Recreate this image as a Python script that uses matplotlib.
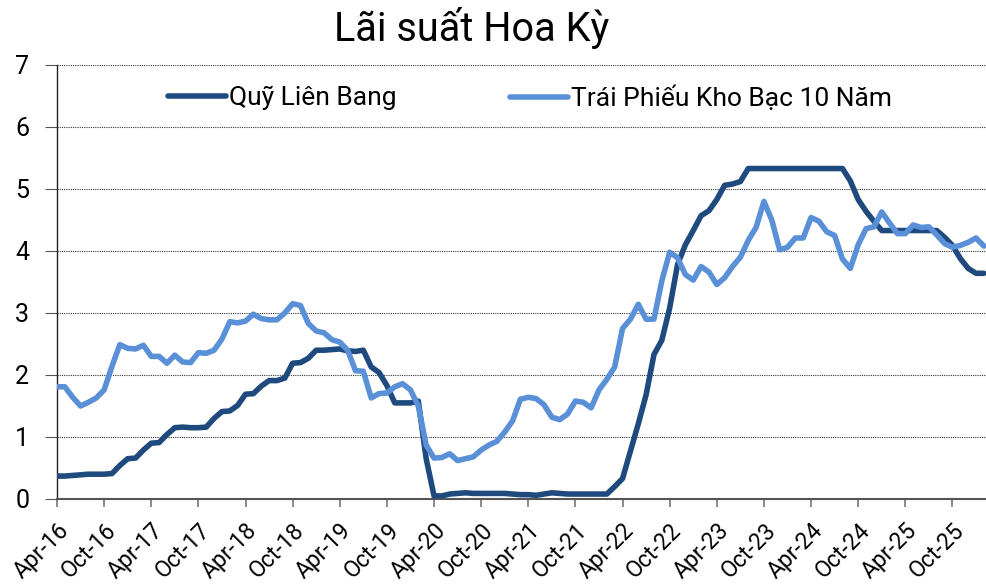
import matplotlib
matplotlib.use("Agg")
import matplotlib.pyplot as plt
from matplotlib.lines import Line2D
import numpy as np

# Monthly data from Apr-2016
start_year, start_month = 2016, 4

fed_funds = [
    # 2016 Apr-Dec
    0.37, 0.37, 0.38, 0.39, 0.40, 0.40, 0.40, 0.41, 0.54,
    # 2017
    0.65, 0.66, 0.79, 0.90, 0.91, 1.04, 1.15, 1.16, 1.15, 1.15, 1.16, 1.30,
    # 2018
    1.41, 1.42, 1.51, 1.69, 1.70, 1.82, 1.91, 1.91, 1.95, 2.19, 2.20, 2.27,
    # 2019
    2.40, 2.40, 2.41, 2.42, 2.39, 2.38, 2.40, 2.13, 2.04, 1.83, 1.55, 1.55,
    # 2020
    1.55, 1.58, 0.65, 0.05, 0.05, 0.08, 0.09, 0.10, 0.09, 0.09, 0.09, 0.09,
    # 2021
    0.09, 0.08, 0.07, 0.07, 0.06, 0.08, 0.10, 0.09, 0.08, 0.08, 0.08, 0.08,
    # 2022
    0.08, 0.08, 0.20, 0.33, 0.77, 1.21, 1.68, 2.33, 2.56, 3.08, 3.78, 4.10,
    # 2023
    4.33, 4.57, 4.65, 4.83, 5.06, 5.08, 5.12, 5.33, 5.33, 5.33, 5.33, 5.33,
    # 2024
    5.33, 5.33, 5.33, 5.33, 5.33, 5.33, 5.33, 5.33, 5.13, 4.83, 4.64, 4.48,
    # 2025
    4.33, 4.33, 4.33, 4.33, 4.33, 4.33, 4.33, 4.33, 4.22, 4.09, 3.88, 3.72,
    # 2026 Jan-Feb
    3.64, 3.64,
]

treasury_10y = [
    # 2016 Apr-Dec
    1.81, 1.81, 1.64, 1.50, 1.56, 1.63, 1.76, 2.14, 2.49,
    # 2017
    2.43, 2.42, 2.48, 2.30, 2.30, 2.19, 2.32, 2.21, 2.20, 2.36, 2.35, 2.40,
    # 2018
    2.58, 2.86, 2.84, 2.87, 2.98, 2.91, 2.89, 2.89, 3.00, 3.15, 3.12, 2.83,
    # 2019
    2.71, 2.68, 2.57, 2.53, 2.40, 2.07, 2.06, 1.63, 1.70, 1.71, 1.81, 1.86,
    # 2020
    1.76, 1.50, 0.87, 0.66, 0.67, 0.73, 0.62, 0.65, 0.68, 0.79, 0.87, 0.93,
    # 2021
    1.08, 1.26, 1.61, 1.64, 1.62, 1.52, 1.32, 1.28, 1.37, 1.58, 1.56, 1.47,
    # 2022
    1.76, 1.93, 2.13, 2.75, 2.90, 3.14, 2.90, 2.90, 3.52, 3.98, 3.89, 3.62,
    # 2023
    3.53, 3.75, 3.66, 3.46, 3.57, 3.75, 3.90, 4.17, 4.38, 4.80, 4.50, 4.02,
    # 2024
    4.06, 4.21, 4.21, 4.54, 4.48, 4.31, 4.25, 3.87, 3.72, 4.10, 4.36, 4.39,
    # 2025
    4.63, 4.45, 4.28, 4.28, 4.42, 4.38, 4.39, 4.26, 4.12, 4.06, 4.09, 4.14,
    # 2026 Jan-Feb
    4.21, 4.08,
]

series_names = ["Quỹ Liên Bang", "Trái Phiếu Kho Bạc 10 Năm"]
title = "Lãi suất Hoa Kỳ"
month_abbr = ["Jan", "Feb", "Mar", "Apr", "May", "Jun",
              "Jul", "Aug", "Sep", "Oct", "Nov", "Dec"]

plt.rcParams['font.family'] = ['Roboto', 'DejaVu Sans']

n = len(fed_funds)
x = np.arange(n)

def label_for(i):
    total = start_month - 1 + i
    y = start_year + total // 12
    m = total % 12
    return f"{month_abbr[m]}-{y % 100:02d}"

tick_pos = list(range(0, n - 2, 6))
tick_labels = [label_for(i) for i in tick_pos]

fig = plt.figure(figsize=(9.87, 5.86), dpi=100)
ax = fig.add_axes([57 / 987, 1 - 499 / 586, 1 - 57 / 987, (499 - 65) / 586])

dark = '#1F4A7D'
light = '#5990D8'
lw = 4.0
ax.plot(x, fed_funds, color=dark, lw=lw, solid_joinstyle='round',
        solid_capstyle='round', zorder=3)
ax.plot(x, treasury_10y, color=light, lw=lw, solid_joinstyle='round',
        solid_capstyle='round', zorder=4)

ax.set_xlim(0, 118.4)
ax.set_ylim(0, 7)
ax.set_yticks(range(0, 8))
ax.set_xticks(tick_pos)
ax.set_xticklabels(tick_labels, rotation=45, ha='right', rotation_mode='anchor',
                   fontsize=16.5)
ax.tick_params(axis='y', labelsize=18, length=9, color='#555555', width=0.8, pad=11)
ax.tick_params(axis='x', length=6, color='#777777', width=1.2, pad=8)

ax.grid(axis='y', linestyle=(0, (1, 1)), color='#333333', linewidth=0.8)
ax.set_axisbelow(True)
for s in ['top', 'right']:
    ax.spines[s].set_visible(False)
ax.spines['left'].set_color('#222222')
ax.spines['left'].set_linewidth(1.0)
ax.spines['bottom'].set_color('#555555')
ax.spines['bottom'].set_linewidth(1.5)

# Legend entries positioned separately
leg_fs = 19
h1 = Line2D([], [], color=dark, lw=lw, solid_capstyle='round')
h2 = Line2D([], [], color=light, lw=lw, solid_capstyle='round')
leg1 = fig.legend([h1], [series_names[0]], loc='center left',
                  bbox_to_anchor=(168 / 987, 1 - 98 / 586), frameon=False,
                  fontsize=leg_fs, handlelength=2.2, handletextpad=0.1,
                  borderpad=0, borderaxespad=0)
leg2 = fig.legend([h2], [series_names[1]], loc='center left',
                  bbox_to_anchor=(510 / 987, 1 - 98 / 586), frameon=False,
                  fontsize=leg_fs, handlelength=2.2, handletextpad=0.1,
                  borderpad=0, borderaxespad=0)

fig.text(0.478, 0.952, title, ha='center', va='center', fontsize=28.5)

fig.savefig('out.png', dpi=100)
